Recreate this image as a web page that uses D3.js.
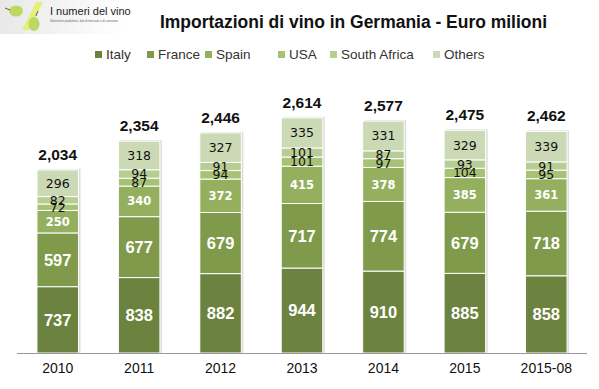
<!DOCTYPE html>
<html><head><meta charset="utf-8">
<script src="https://cdn.jsdelivr.net/npm/d3@7"></script>
<style>body{margin:0;background:#fff;}svg{display:block;font-family:"Liberation Sans",Arial,sans-serif;}</style>
</head><body>
<svg id="c" width="599" height="389"></svg>
<script>
const categories = ["2010","2011","2012","2013","2014","2015","2015-08"];
const seriesNames = ["Italy","France","Spain","USA","South Africa","Others"];
const italy = [737,838,882,944,910,885,858];
const france = [597,677,679,717,774,679,718];
const spain = [250,340,372,415,378,385,361];
const usa = [72,87,94,101,97,104,95];
const southAfrica = [82,94,91,101,87,93,91];
const others = [296,318,327,335,331,329,339];
const totals = ["2,034","2,354","2,446","2,614","2,577","2,475","2,462"];
const colors = ["#6b833e","#7f9a4a","#94b05e","#a8c275","#b7cd93","#cbdab4"];

const series = [italy,france,spain,usa,southAfrica,others];
const rows = categories.map((c,i)=>{const o={cat:c};seriesNames.forEach((s,j)=>o[s]=series[j][i]);return o;});
const stack = d3.stack().keys(seriesNames)(rows);

const svg = d3.select("#c");
const x = d3.scaleBand().domain(categories).range([17,587]).paddingInner(0.49).paddingOuter(0.245);
const y = d3.scaleLinear().domain([0,3000]).range([353,83]);

// logo
const defs = svg.append("defs");
const lg = defs.append("linearGradient").attr("id","lg").attr("x1",0).attr("x2",1);
lg.append("stop").attr("offset",0).attr("stop-color","#e8e8e8");
lg.append("stop").attr("offset",1).attr("stop-color","#ffffff");
svg.append("rect").attr("x",0).attr("y",0).attr("width",125).attr("height",34).attr("fill","url(#lg)");
svg.append("path").attr("d","M22,30 L29,30 L43,2 L36,2 Z").attr("fill","#e2f07a");
svg.append("ellipse").attr("cx",16).attr("cy",11).attr("rx",7).attr("ry",5.5).attr("fill","#bcd862");
svg.append("ellipse").attr("cx",34).attr("cy",24).attr("rx",5.5).attr("ry",7).attr("fill","#bcd862");
svg.append("path").attr("d","M5,8 L10,10 M36,16 L38,11").attr("stroke","#6b5a3a").attr("stroke-width",1).attr("fill","none");
svg.append("text").attr("x",50).attr("y",15).attr("font-size",11).attr("fill","#222").text("I numeri del vino");
svg.append("text").attr("x",50).attr("y",22).attr("font-size",3).attr("fill","#666").text("Statistiche produttive, dati di mercato e di consumo");

// title
svg.append("text").attr("x",160).attr("y",28).attr("font-size",18).attr("font-weight","bold")
  .attr("textLength",387).attr("lengthAdjust","spacingAndGlyphs").attr("fill","#111")
  .text("Importazioni di vino in Germania - Euro milioni");

// legend
const legX = [95,147,205,278,330,433];
seriesNames.forEach((s,i)=>{
  svg.append("rect").attr("x",legX[i]).attr("y",51).attr("width",7).attr("height",7).attr("fill",colors[i]);
  svg.append("text").attr("x",legX[i]+11).attr("y",59).attr("font-size",13.5).attr("fill","#333").text(s);
});

// bar shadows
svg.append("g").selectAll("rect").data(rows).join("rect")
  .attr("x",d=>x(d.cat)+2).attr("width",x.bandwidth())
  .attr("y",(d,i)=>y(stack[5][i][1])-1).attr("height",(d,i)=>y(0)-y(stack[5][i][1])+1)
  .attr("fill","#dcdcdc");

// bars
stack.forEach((layer,li)=>{
  svg.append("g").selectAll("rect").data(layer).join("rect")
    .attr("x",d=>x(d.data.cat)).attr("width",x.bandwidth())
    .attr("y",d=>y(d[1])).attr("height",d=>y(d[0])-y(d[1]))
    .attr("fill",colors[li]).attr("stroke","#fff").attr("stroke-width",1);
});

// axis
svg.append("line").attr("x1",17).attr("x2",587).attr("y1",353.5).attr("y2",353.5).attr("stroke","#999").attr("stroke-width",1);
const xa = svg.append("g").attr("transform","translate(0,353)").call(d3.axisBottom(x).tickSize(0).tickPadding(10));
xa.select(".domain").remove();
xa.selectAll("text").attr("font-size",14).attr("fill","#111").attr("font-family","Liberation Sans, Arial, sans-serif");

// segment labels
stack.forEach((layer,li)=>{
  svg.append("g").selectAll("text").data(layer).join("text")
    .attr("x",d=>x(d.data.cat)+x.bandwidth()/2)
    .attr("y",d=>(y(d[0])+y(d[1]))/2)
    .attr("dy","0.36em").attr("text-anchor","middle")
    .attr("font-family",li<2?"Liberation Sans, Arial, sans-serif":"DejaVu Sans, Verdana, sans-serif")
    .attr("font-size",li<2?16.5:(li==2?11.5:12.5))
    .attr("font-weight",li<3?"bold":"normal")
    .attr("fill",li<3?"#fff":"#111")
    .text(d=>d.data[seriesNames[li]]);
});

// totals
svg.append("g").selectAll("text").data(rows).join("text")
  .attr("x",d=>x(d.cat)+x.bandwidth()/2)
  .attr("y",(d,i)=>y(stack[5][i][1])-10)
  .attr("text-anchor","middle").attr("font-size",15.5).attr("font-weight","bold").attr("fill","#111")
  .text((d,i)=>totals[i]);
</script>
</body></html>
